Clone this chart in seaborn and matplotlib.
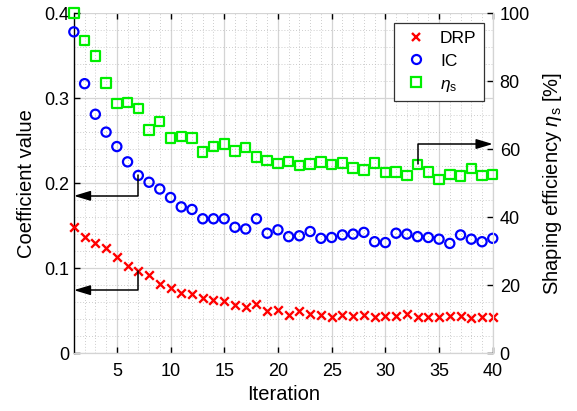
import numpy as np
import pandas as pd
import matplotlib
matplotlib.use("Agg")
import matplotlib.pyplot as plt
from matplotlib.ticker import MultipleLocator
from matplotlib.lines import Line2D
import seaborn as sns

# ---------------- data ----------------
iterations = list(range(1, 41))
drp = [0.148, 0.137, 0.130, 0.124, 0.113, 0.102, 0.097, 0.092, 0.081, 0.077,
       0.071, 0.069, 0.065, 0.063, 0.061, 0.056, 0.054, 0.058, 0.050, 0.051,
       0.045, 0.050, 0.046, 0.045, 0.043, 0.045, 0.044, 0.045, 0.043, 0.044,
       0.044, 0.046, 0.042, 0.042, 0.043, 0.044, 0.044, 0.041, 0.042, 0.043]
ic = [0.378, 0.317, 0.281, 0.260, 0.243, 0.225, 0.209, 0.201, 0.193, 0.183,
      0.172, 0.169, 0.158, 0.158, 0.158, 0.148, 0.146, 0.158, 0.141, 0.145,
      0.137, 0.138, 0.143, 0.135, 0.136, 0.139, 0.140, 0.142, 0.131, 0.130,
      0.141, 0.140, 0.137, 0.136, 0.134, 0.129, 0.139, 0.134, 0.131, 0.135]
eta_s = [100.0, 92.0, 87.4, 79.4, 73.4, 73.7, 72.0, 65.6, 68.1, 63.3,
         63.7, 63.3, 59.2, 60.7, 61.5, 59.4, 60.4, 57.7, 56.7, 55.8,
         56.4, 55.1, 55.6, 56.2, 55.5, 55.9, 54.5, 53.8, 55.9, 53.1,
         53.3, 52.3, 55.5, 53.3, 51.1, 52.6, 52.1, 54.3, 52.3, 52.5]
labels = ["DRP", "IC", r"$\eta_\mathrm{s}$"]
xtick_labels = ["5", "10", "15", "20", "25", "30", "35", "40"]
ytick_labels = ["0", "0.1", "0.2", "0.3", "0.4"]
y2tick_labels = ["0", "20", "40", "60", "80", "100"]
# annotation arrow levels (arrow from iteration 7 / 33 to axes)
ic_arrow_level = 0.185
drp_arrow_level = 0.074
eta_arrow_level = 61.5
arrow_iter_left = 7
arrow_iter_right = 33

df = pd.DataFrame({"it": iterations, "drp": drp, "ic": ic, "eta": eta_s})

# ---------------- style ----------------
plt.rcParams["font.family"] = ["Liberation Sans", "DejaVu Sans"]
plt.rcParams["mathtext.fontset"] = "custom"
plt.rcParams["mathtext.rm"] = "Liberation Sans"
plt.rcParams["mathtext.it"] = "Liberation Sans:italic"
plt.rcParams["mathtext.bf"] = "Liberation Sans:bold"

fig = plt.figure(figsize=(5.77, 4.11), dpi=100)
ax = fig.add_axes([0.128, 0.141, 0.726, 0.827])
ax2 = ax.twinx()

grid_major = "#d4d4d4"
grid_minor = "#bcbcbc"

ax.set_xlim(1, 40)
ax.set_ylim(0, 0.4)
ax2.set_ylim(0, 100)

ax.xaxis.set_minor_locator(MultipleLocator(1))
ax.yaxis.set_minor_locator(MultipleLocator(0.02))

ax.set_xticks([int(t) for t in xtick_labels])
ax.set_xticklabels(xtick_labels)
ax.set_yticks([float(t) for t in ytick_labels])
ax.set_yticklabels(ytick_labels)
ax2.set_yticks([float(t) for t in y2tick_labels])
ax2.set_yticklabels(y2tick_labels)

ax.grid(which="major", color=grid_major, lw=0.9, ls="-")
ax.grid(which="minor", color=grid_minor, lw=0.6, ls=(0, (1, 2.5)))
ax.set_axisbelow(True)

ax.tick_params(axis="x", which="major", direction="in", length=4, width=1,
               colors="black", top=True, bottom=True, labelsize=13, pad=7)
ax.tick_params(axis="y", which="major", direction="in", length=4, width=1,
               colors="black", left=True, labelsize=13, pad=3)
ax.tick_params(which="minor", length=0)
ax2.tick_params(which="major", direction="in", length=4, width=1,
                labelsize=13, pad=5)
ax2.tick_params(which="minor", length=0)

for a in (ax, ax2):
    a.spines["top"].set_visible(False)
    a.spines["right"].set_color(grid_major)
    a.spines["bottom"].set_color(grid_major)
    a.spines["left"].set_color("black")
    a.spines["left"].set_linewidth(1.0)
ax2.spines["left"].set_visible(False)

# ---------------- data marks ----------------
sns.scatterplot(data=df, x="it", y="drp", ax=ax, marker="x", color="#ff0000",
                s=38, linewidth=1.7, clip_on=False, zorder=5)
sns.scatterplot(data=df, x="it", y="ic", ax=ax, marker="o", facecolors="none",
                edgecolor="#0000ff", s=44, linewidth=1.6, clip_on=False, zorder=5)
sns.scatterplot(data=df, x="it", y="eta", ax=ax2, marker="s", facecolors="none",
                edgecolor="#00ee00", s=46, linewidth=1.6, clip_on=False, zorder=5)

ax.set_xlabel("Iteration", fontsize=14.5, labelpad=4)
ax.set_ylabel("Coefficient value", fontsize=14.5, labelpad=6)
ax2.set_ylabel(r"Shaping efficiency $\eta_\mathrm{s}$ [%]", fontsize=14.5,
               labelpad=8)

# ---------------- arrows ----------------
arrow_kw = dict(arrowstyle="-|>,head_length=1.0,head_width=0.3", color="black",
                lw=1.1, shrinkA=0, shrinkB=0,
                connectionstyle="angle,angleA=90,angleB=0,rad=0")
ai = arrow_iter_left - 1
ax.annotate("", xy=(1, ic_arrow_level), xytext=(arrow_iter_left, ic[ai]),
            arrowprops=arrow_kw, annotation_clip=False, zorder=6)
ax.annotate("", xy=(1, drp_arrow_level), xytext=(arrow_iter_left, drp[ai]),
            arrowprops=arrow_kw, annotation_clip=False, zorder=6)
bi = arrow_iter_right - 1
ax2.annotate("", xy=(40, eta_arrow_level), xytext=(arrow_iter_right, eta_s[bi]),
             arrowprops=arrow_kw, annotation_clip=False, zorder=6)

# ---------------- legend ----------------
handles = [
    Line2D([], [], ls="none", marker="x", color="#ff0000", mew=1.7, ms=6),
    Line2D([], [], ls="none", marker="o", mfc="none", mec="#0000ff", mew=1.6, ms=6.5),
    Line2D([], [], ls="none", marker="s", mfc="none", mec="#00ee00", mew=1.6, ms=6.5),
]
leg = ax2.legend(handles, labels, loc="upper right", bbox_to_anchor=(0.9785, 0.9706),
                 borderaxespad=0, fontsize=12.5, frameon=True, fancybox=False,
                 framealpha=1, edgecolor="#333333", borderpad=0.42,
                 handletextpad=0.6, labelspacing=0.45, handlelength=1.6)
leg.get_frame().set_linewidth(0.9)
leg.set_zorder(10)

fig.savefig("out.png", dpi=100)
